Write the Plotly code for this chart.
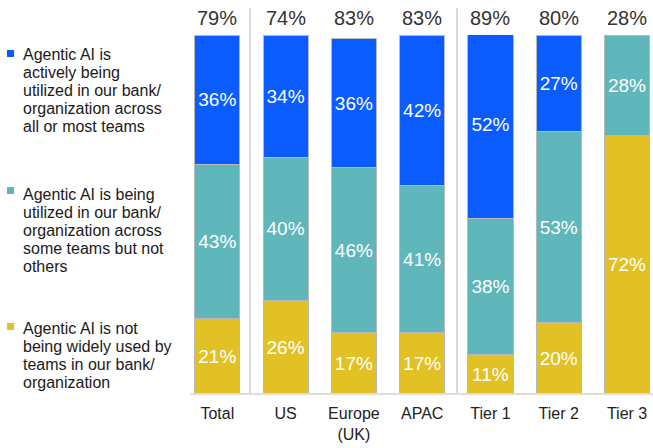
import plotly.graph_objects as go

categories = ["Total", "US", "Europe<br>(UK)", "APAC", "Tier 1", "Tier 2", "Tier 3"]
all_most = [36, 34, 36, 42, 52, 27, 0]
some_teams = [43, 40, 46, 41, 38, 53, 28]
not_widely = [21, 26, 17, 17, 11, 20, 72]
totals = [79, 74, 83, 83, 89, 80, 28]

legend_lines = [
    ["Agentic AI is", "actively being", "utilized in our bank/", "organization across", "all or most teams"],
    ["Agentic AI is being", "utilized in our bank/", "organization across", "some teams but not", "others"],
    ["Agentic AI is not", "being widely used by", "teams in our bank/", "organization"],
]

BLUE = "#0A5CFF"
TEAL = "#5FB6BB"
YELLOW = "#E2C124"
W, H = 653, 448
FONT = "Liberation Sans, Arial"

fig = go.Figure()
series = [(not_widely, YELLOW), (some_teams, TEAL), (all_most, BLUE)]
for vals, col in series:
    fig.add_trace(go.Bar(
        x=categories, y=vals,
        marker=dict(color=col, line=dict(color="#b8b8b8", width=1)),
        text=[f"{v}%" if v else "" for v in vals],
        textposition="inside", insidetextanchor="middle",
        textfont=dict(color="white", size=19, family=FONT),
        showlegend=False, hoverinfo="skip",
    ))

# totals above bars
for c, t in zip(categories, totals):
    fig.add_annotation(x=c, y=100, xref="x", yref="y", text=f"{t}%",
                       showarrow=False, yanchor="bottom", yshift=4,
                       font=dict(size=20, color="#333333", family=FONT))

# legend (custom)
first_baselines = [60, 200, 334]
square_tops = [50, 187, 323]
leg_cols = [BLUE, TEAL, YELLOW]
for lines, b0, sq, col in zip(legend_lines, first_baselines, square_tops, leg_cols):
    fig.add_shape(type="rect", xref="paper", yref="paper",
                  x0=7 / W, x1=14 / W, y0=(H - (sq + 7)) / H, y1=(H - sq) / H,
                  fillcolor=col, line=dict(width=0))
    for i, ln in enumerate(lines):
        base = b0 + i * 18
        fig.add_annotation(x=21 / W, y=(H - (base - 5.5)) / H, xref="paper", yref="paper",
                           text=ln, showarrow=False, xanchor="left", yanchor="middle",
                           align="left",
                           font=dict(size=16, color="#1a1a1a", family=FONT))

# separators
for px in [250, 457]:
    fig.add_shape(type="line", xref="paper", yref="paper",
                  x0=px / W, x1=px / W, y0=(H - 394) / H, y1=(H - 8) / H,
                  line=dict(color="#d9d9d9", width=2))
fig.add_shape(type="line", xref="paper", yref="paper",
              x0=190 / W, x1=1, y0=(H - 394) / H, y1=(H - 394) / H,
              line=dict(color="#dddddd", width=2))

fig.update_layout(
    barmode="stack", bargap=0.34,
    width=W, height=H,
    margin=dict(l=0, r=0, t=0, b=0),
    plot_bgcolor="white", paper_bgcolor="white",
    xaxis=dict(domain=[190 / W, 1], range=[-0.40, 6.38], showgrid=False, zeroline=False,
               showline=False, ticks="", ticklabelstandoff=8,
               tickfont=dict(size=16, color="#222222", family=FONT)),
    yaxis=dict(domain=[(H - 394) / H, (H - 35) / H], range=[0, 100], visible=False),
    font=dict(family=FONT),
)

fig.write_html("out.html")
